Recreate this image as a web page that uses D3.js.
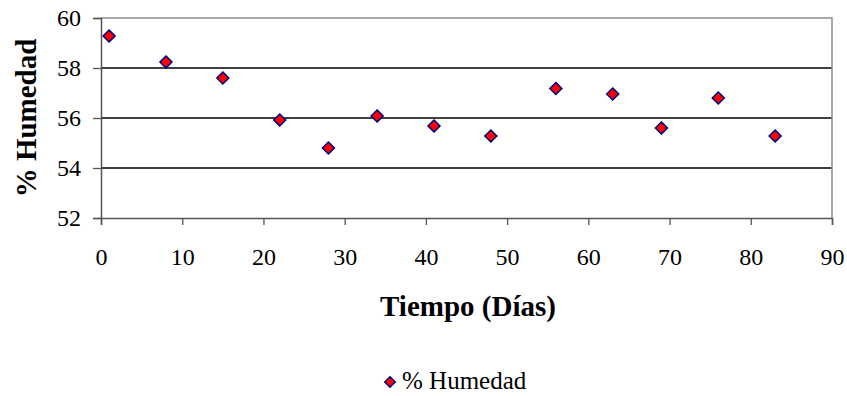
<!DOCTYPE html>
<html>
<head>
<meta charset="utf-8">
<script src="https://cdn.jsdelivr.net/npm/d3@7"></script>
<style>
  html, body { margin: 0; padding: 0; background: #fff; }
  svg { display: block; }
</style>
</head>
<body>
<svg id="chart" width="847" height="396"></svg>
<script>
// Humidity readings over time
const dias = [1, 8, 15, 22, 28, 34, 41, 48, 56, 63, 69, 76, 83];
const humedad = [59.28, 58.24, 57.6, 55.92, 54.8, 56.08, 55.68, 55.28, 57.18, 56.96, 55.6, 56.8, 55.28];
const xTicks = [0, 10, 20, 30, 40, 50, 60, 70, 80, 90];
const yTicks = [52, 54, 56, 58, 60];
const seriesName = "% Humedad";
const xTitle = "Tiempo (Días)";
const yTitle = "% Humedad";

const serif = '"Liberation Serif"';
const svg = d3.select("#chart");
const plot = { left: 101, top: 18, right: 832, bottom: 218 };

const x = d3.scaleLinear().domain([0, 90]).range([plot.left, plot.right]);
const y = d3.scaleLinear().domain([52, 60]).range([plot.bottom, plot.top]);

// horizontal gridlines
svg.append("g")
  .selectAll("line")
  .data(yTicks.filter(v => v > 52 && v < 60))
  .join("line")
  .attr("x1", plot.left).attr("x2", plot.right)
  .attr("y1", d => y(d)).attr("y2", d => y(d))
  .attr("stroke", "#000").attr("stroke-width", 1.3);

// plot frame (top and right)
svg.append("path")
  .attr("d", `M${plot.left},${plot.top}H${plot.right}V${plot.bottom}`)
  .attr("fill", "none").attr("stroke", "#8c8c8c").attr("stroke-width", 1.5);

// x axis
const xAxis = svg.append("g")
  .attr("transform", `translate(0,${plot.bottom})`)
  .call(d3.axisBottom(x).tickValues(xTicks).tickSize(7).tickPadding(23).tickFormat(d3.format("d")));
xAxis.select(".domain").attr("stroke", "#555").attr("stroke-width", 1.5);
xAxis.selectAll(".tick line").attr("stroke", "#555").attr("stroke-width", 1.3);
xAxis.selectAll(".tick text")
  .style("font-family", serif).style("font-size", "24px").attr("fill", "#000");

// y axis
const yAxis = svg.append("g")
  .attr("transform", `translate(${plot.left},0)`)
  .call(d3.axisLeft(y).tickValues(yTicks).tickSize(8).tickPadding(12).tickFormat(d3.format("d")));
yAxis.select(".domain").attr("stroke", "#555").attr("stroke-width", 1.5);
yAxis.selectAll(".tick line").attr("stroke", "#555").attr("stroke-width", 1.3);
yAxis.selectAll(".tick text")
  .style("font-family", serif).style("font-size", "24px").attr("fill", "#000");

// axis titles
svg.append("text")
  .attr("x", 468).attr("y", 316)
  .attr("text-anchor", "middle")
  .style("font-family", serif).style("font-size", "29px").style("font-weight", "bold")
  .text(xTitle);

svg.append("text")
  .attr("transform", `translate(36,118) rotate(-90)`)
  .attr("text-anchor", "middle")
  .style("font-family", serif).style("font-size", "29px").style("font-weight", "bold")
  .text(yTitle);

// markers
const diamond = d3.symbol().type(d3.symbolDiamond2).size(90);
svg.append("g")
  .selectAll("path")
  .data(dias.map((d, i) => [d, humedad[i]]))
  .join("path")
  .attr("d", diamond)
  .attr("transform", d => `translate(${x(d[0])},${y(d[1])})`)
  .attr("fill", "#ff0000").attr("stroke", "#000080").attr("stroke-width", 1.6);

// legend
const legend = svg.append("g").attr("transform", "translate(390,382)");
legend.append("path")
  .attr("d", d3.symbol().type(d3.symbolDiamond2).size(70))
  .attr("fill", "#ff0000").attr("stroke", "#000080").attr("stroke-width", 1.5);
legend.append("text")
  .attr("x", 12).attr("y", 7)
  .style("font-family", serif).style("font-size", "25px")
  .text(seriesName);
</script>
</body>
</html>
